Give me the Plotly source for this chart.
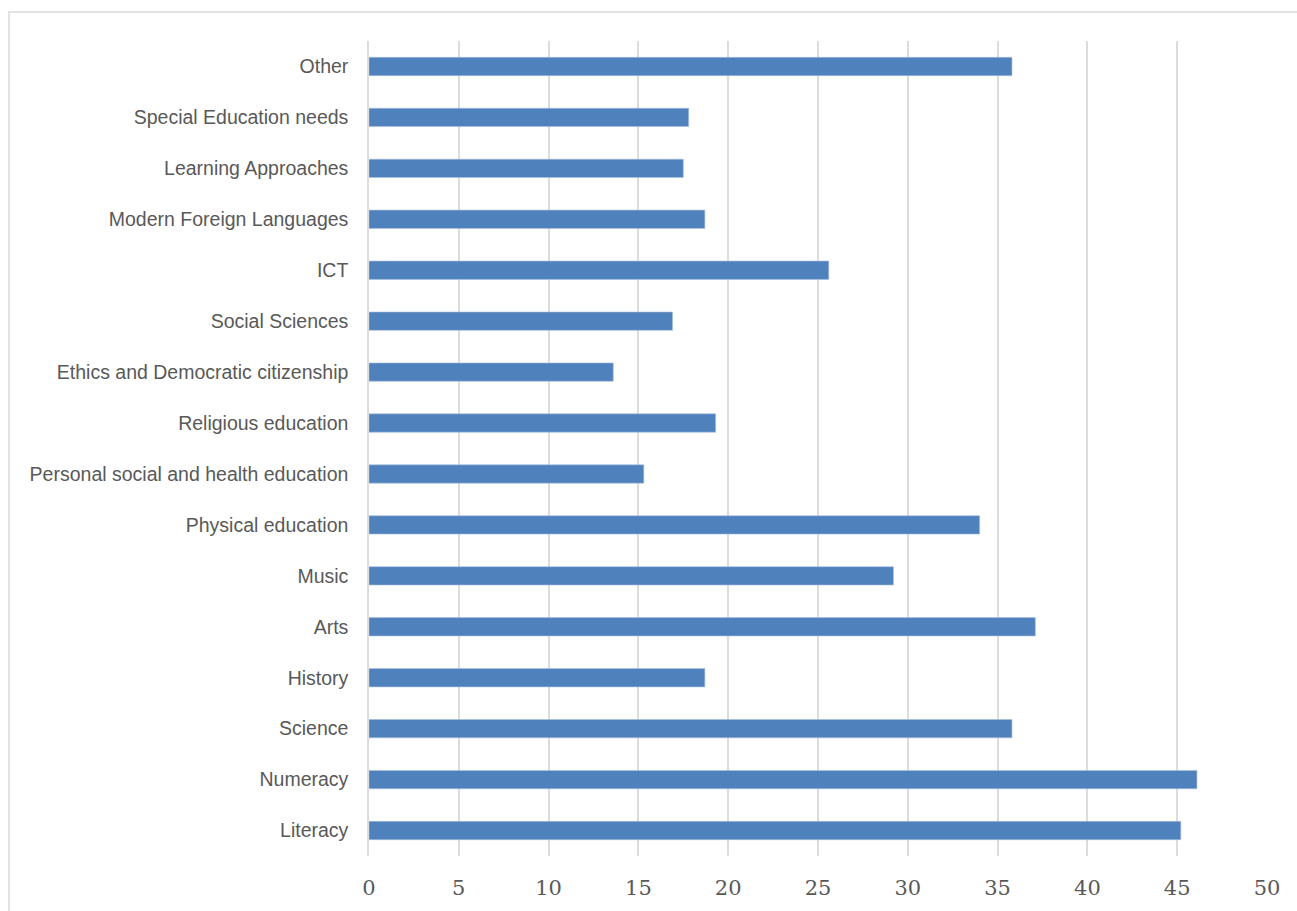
import plotly.graph_objects as go

# Subjects, listed bottom-to-top as they appear on the axis
subjects = [
    "Literacy", "Numeracy", "Science", "History", "Arts", "Music",
    "Physical education", "Personal social and health education",
    "Religious education", "Ethics and Democratic citizenship",
    "Social Sciences", "ICT", "Modern Foreign Languages",
    "Learning Approaches", "Special Education needs", "Other",
]
values = [
    45.2, 46.1, 35.8, 18.7, 37.1, 29.2,
    34.0, 15.3,
    19.3, 13.6,
    16.9, 25.6, 18.7,
    17.5, 17.8, 35.8,
]
x_ticks = [0, 5, 10, 15, 20, 25, 30, 35, 40, 45, 50]

W, H = 1297, 911
L, R, T, B = 369, 30, 41, 55
pw, ph = W - L - R, H - T - B


def px_to_paper(px, py):
    return (px - L) / pw, (H - B - py) / ph


fig = go.Figure(
    go.Bar(
        x=values,
        y=subjects,
        orientation="h",
        marker=dict(color="#4f81bd", line=dict(color="#a9c0de", width=0.6)),
        width=0.36,
        hoverinfo="x+y",
    )
)

x0, y0 = px_to_paper(9, 12)
x1, y1 = px_to_paper(1320, 930)

fig.update_layout(
    width=W,
    height=H,
    margin=dict(l=L, r=R, t=T, b=B, autoexpand=False),
    paper_bgcolor="white",
    plot_bgcolor="white",
    showlegend=False,
    bargap=0.64,
    shapes=[
        dict(
            type="rect", xref="paper", yref="paper",
            x0=x0, y0=y0, x1=x1, y1=y1,
            line=dict(color="#d9d9d9", width=1.5),
            fillcolor="rgba(0,0,0,0)", layer="below",
        )
    ],
)

fig.update_xaxes(
    range=[0, 50],
    tickvals=x_ticks,
    ticktext=[str(v) for v in x_ticks],
    showgrid=True,
    gridcolor="#dcdcdc",
    gridwidth=1.5,
    zeroline=False,
    showline=False,
    ticks="",
    ticklabelstandoff=17,
    tickfont=dict(family="DejaVu Serif", size=21, color="#595959"),
)

fig.update_yaxes(
    categoryorder="array",
    categoryarray=subjects,
    range=[-0.5, len(subjects) - 0.5],
    showgrid=False,
    zeroline=False,
    showline=True,
    linecolor="#dcdcdc",
    linewidth=1.5,
    ticks="",
    ticklabelstandoff=15,
    tickfont=dict(family="Liberation Sans", size=19.5, color="#595959"),
)

fig.write_html("out.html")
